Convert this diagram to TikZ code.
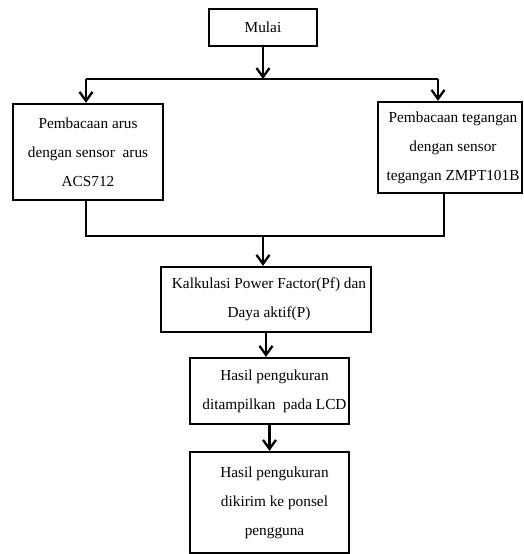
\documentclass[tikz,border=0pt]{standalone}
\usepackage{fontspec}
\setmainfont{Liberation Serif}
\usetikzlibrary{arrows.meta}
\begin{document}
\begin{tikzpicture}[x=1pt,y=-1pt,
  box/.style={draw, line width=2.3pt, inner sep=0pt, align=center,
    font=\fontsize{15.3}{29}\selectfont},
  conn/.style={line width=2.3pt},
  arr/.style={conn, -{Straight Barb[length=9pt,width=13pt,line width=2.3pt]}}]
\useasboundingbox (0,0) rectangle (524,554);
\node[box, minimum width=108pt, minimum height=37pt] (start) at (263,27.5) {Mulai};
\node[box, minimum width=150pt, minimum height=96pt] (left) at (88,152)
  {Pembacaan arus\\dengan sensor\ \ arus\\ACS712};
\node[box, minimum width=144pt, minimum height=91pt] (right) at (450,147.5)
  {\hspace*{6pt}Pembacaan tegangan\\\hspace*{6pt}dengan sensor\\\hspace*{6pt}tegangan ZMPT101B};
\node[box, minimum width=210pt, minimum height=65pt] (kalk) at (266,299.5)
  {\hspace*{6pt}Kalkulasi Power Factor(Pf) dan\\\hspace*{6pt}Daya aktif(P)};
\node[box, minimum width=159pt, minimum height=66pt] (lcd) at (269.5,391)
  {\hspace*{10pt}Hasil pengukuran\\\hspace*{10pt}ditampilkan\ \ pada LCD};
\node[box, minimum width=159pt, minimum height=101pt] (hp) at (269.5,502.5)
  {\hspace*{10pt}Hasil pengukuran\\\hspace*{10pt}dikirim ke ponsel\\\hspace*{10pt}pengguna};
\coordinate (split) at (263,79);
\coordinate (sl) at (86,79);
\coordinate (sr) at (438,79);
\coordinate (ml) at (86,236);
\coordinate (mr) at (444,236);
\coordinate (mm) at (263,236);
\draw[arr] (start.south) -- (split);
\draw[conn] (sl) -- (sr);
\draw[arr] (sl) -- (sl |- left.north);
\draw[arr] (sr) -- (sr |- right.north);
\draw[conn] (ml |- left.south) -- (ml) -- (mr) -- (mr |- right.south);
\draw[arr] (mm) -- (mm |- kalk.north);
\draw[arr] (kalk.south) -- (kalk.south |- lcd.north);
\draw[arr] (lcd.south) -- (hp.north);
\end{tikzpicture}
\end{document}
